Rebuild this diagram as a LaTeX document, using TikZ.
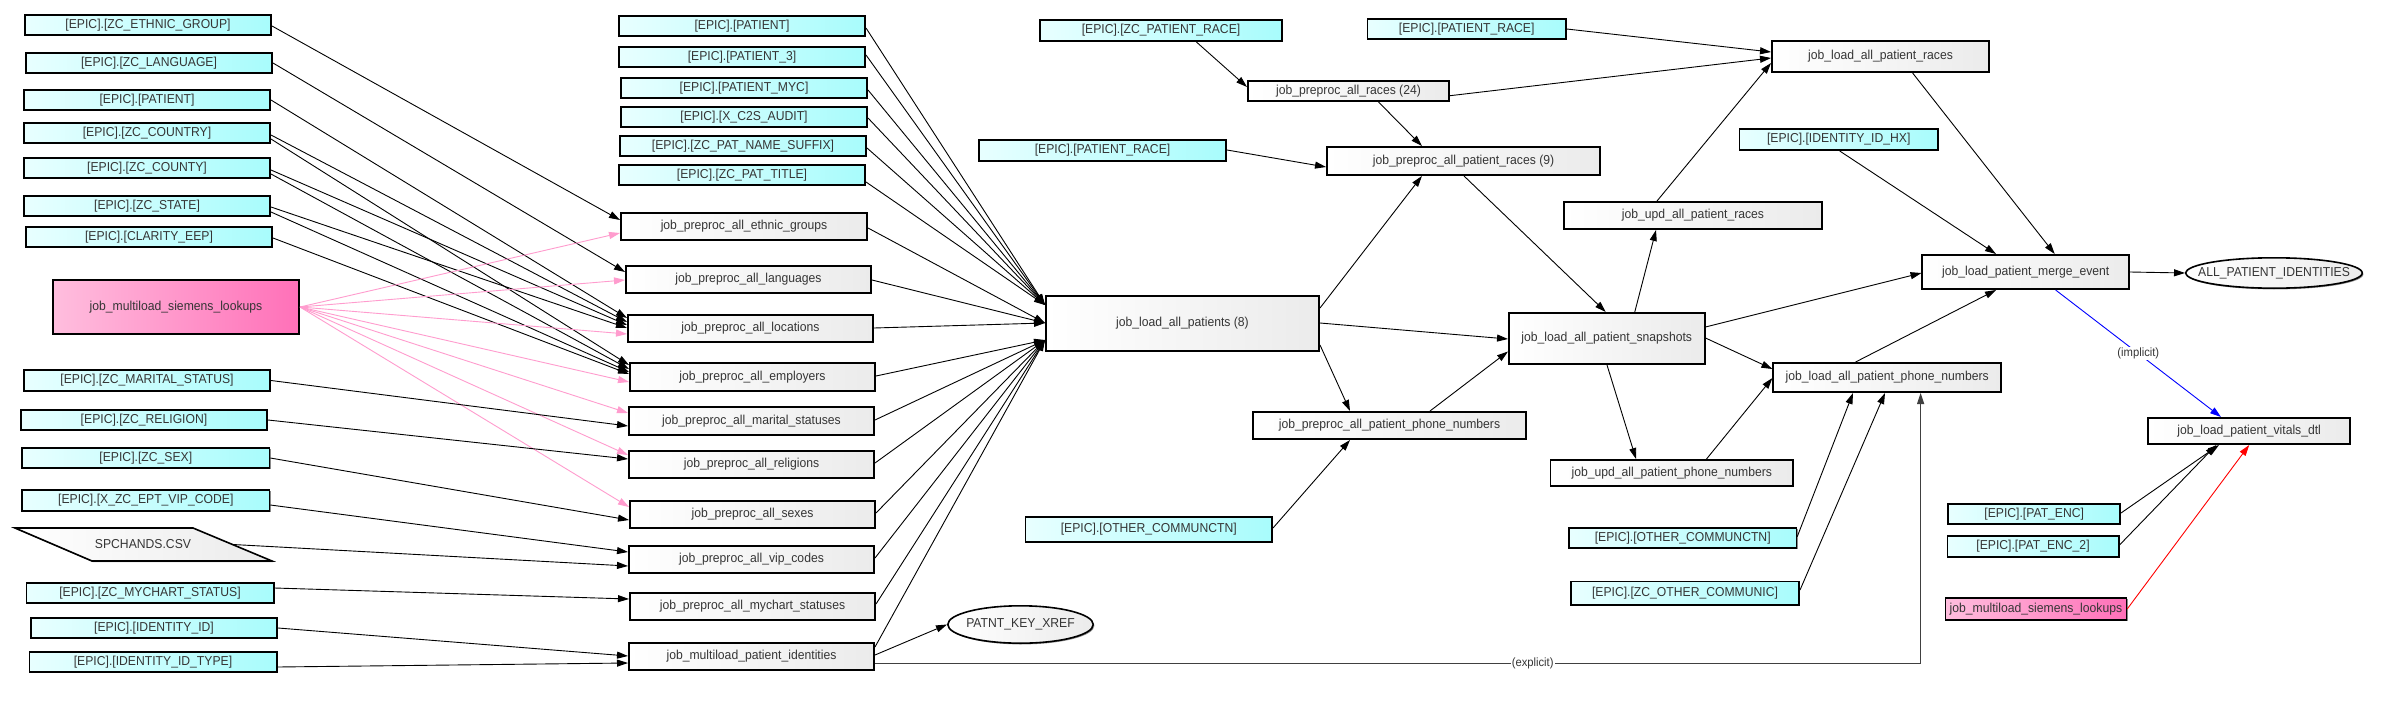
\documentclass[tikz,border=0pt]{standalone}
\usepackage{fontspec}
\setmainfont{Liberation Sans}[FakeStretch=0.94]
\usetikzlibrary{arrows.meta,calc,shapes.geometric,shadows}
\definecolor{cyanL}{HTML}{E8FFFF}
\definecolor{cyanR}{HTML}{A8FCFC}
\definecolor{jobR}{HTML}{EBEBEB}
\definecolor{pinkL}{HTML}{FFBEDE}
\definecolor{pinkR}{HTML}{FF70B8}
\definecolor{edgepink}{HTML}{FF9CCE}
\definecolor{txt}{HTML}{353535}
\definecolor{shadowgray}{HTML}{8A8A8A}
\newcommand{\bx}[6]{\node[#1, minimum width={(#4-1.6)*1bp}, minimum height={(#5-1.6)*1bp}] (#2) at (#3) {#6};}
\newcommand{\lnk}[7][e]{\draw[#1] ($(#2)+(#3,#4)$) -- ($(#5)+(#6,#7)$);}
\begin{document}
\begin{tikzpicture}[x=1bp,y=-1bp,
  box/.style={draw=black, line width=1.6bp, inner sep=0pt, text=txt,
    font=\fontsize{13}{15}\selectfont,
    general shadow={fill=shadowgray, shadow xshift=1.2bp, shadow yshift=-1.2bp}},
  cy/.style={box, left color=cyanL, right color=cyanR},
  jb/.style={box, left color=white, right color=jobR},
  pk/.style={box, left color=pinkL, right color=pinkR},
  el/.style={box, ellipse, inner xsep=-15bp, inner ysep=0pt, left color=white, right color=jobR},
  e/.style={draw=black, line width=0.9bp, -{Triangle[length=11bp,width=7bp]}},
  pe/.style={e, draw=edgepink},
  re/.style={e, draw=red},
  lbl/.style={fill=white, inner sep=1bp, text=txt, font=\fontsize{12}{14}\selectfont}]
\fill[white] (0,0) rectangle (2388,707);
\useasboundingbox (0,0) rectangle (2388,707);
% left column
\bx{cy}{eth}{148,25}{248}{22}{[EPIC].[ZC\_ETHNIC\_GROUP]}
\bx{cy}{lang}{149,63}{248}{22}{[EPIC].[ZC\_LANGUAGE]}
\bx{cy}{patL}{147,100}{248}{22}{[EPIC].[PATIENT]}
\bx{cy}{country}{147,133}{248}{22}{[EPIC].[ZC\_COUNTRY]}
\bx{cy}{county}{147,168}{248}{22}{[EPIC].[ZC\_COUNTY]}
\bx{cy}{state}{147,206}{248}{22}{[EPIC].[ZC\_STATE]}
\bx{cy}{clarity}{149,237}{248}{22}{[EPIC].[CLARITY\_EEP]}
\bx{pk}{siemL}{176,307}{248}{56}{job\_multiload\_siemens\_lookups}
\bx{cy}{marital}{147,380.5}{248}{23}{[EPIC].[ZC\_MARITAL\_STATUS]}
\bx{cy}{religion}{144,420}{248}{22}{[EPIC].[ZC\_RELIGION]}
\bx{cy}{sex}{145.8,458}{249}{22}{[EPIC].[ZC\_SEX]}
\bx{cy}{vip}{145.8,500.5}{249}{23}{[EPIC].[X\_ZC\_EPT\_VIP\_CODE]}
\draw[line width=1.6bp, left color=white, right color=jobR,
  general shadow={fill=shadowgray, shadow xshift=1.2bp, shadow yshift=-1.2bp}]
  (15,528) -- (193,528) -- (272,561) -- (92,561) -- cycle;
\node[inner sep=0pt, minimum width=180bp, text=txt, font=\fontsize{13}{15}\selectfont] (spch) at (143,544.5) {SPCHANDS.CSV};
\bx{cy}{mychart}{150,593}{249}{22}{[EPIC].[ZC\_MYCHART\_STATUS]}
\bx{cy}{idid}{154,628}{248}{22}{[EPIC].[IDENTITY\_ID]}
\bx{cy}{idtype}{153,662}{249}{22}{[EPIC].[IDENTITY\_ID\_TYPE]}
% middle column
\bx{cy}{patM}{742,26}{248}{22}{[EPIC].[PATIENT]}
\bx{cy}{pat3}{742,57}{248}{22}{[EPIC].[PATIENT\_3]}
\bx{cy}{patmyc}{744,88}{248}{22}{[EPIC].[PATIENT\_MYC]}
\bx{cy}{c2s}{744,117}{248}{22}{[EPIC].[X\_C2S\_AUDIT]}
\bx{cy}{suffix}{743,146}{248}{22}{[EPIC].[ZC\_PAT\_NAME\_SUFFIX]}
\bx{cy}{title}{742,175}{248}{22}{[EPIC].[ZC\_PAT\_TITLE]}
\bx{jb}{jEth}{744,226.5}{248}{29}{job\_preproc\_all\_ethnic\_groups}
\bx{jb}{jLang}{748.5,279.5}{247}{29}{job\_preproc\_all\_languages}
\bx{jb}{jLoc}{750.5,328.5}{247}{29}{job\_preproc\_all\_locations}
\bx{jb}{jEmp}{752.5,377}{247}{30}{job\_preproc\_all\_employers}
\bx{jb}{jMar}{751.5,421}{247}{30}{job\_preproc\_all\_marital\_statuses}
\bx{jb}{jRel}{751.5,464.5}{247}{29}{job\_preproc\_all\_religions}
\bx{jb}{jSex}{752.5,514.5}{247}{29}{job\_preproc\_all\_sexes}
\bx{jb}{jVip}{751.5,559.5}{247}{29}{job\_preproc\_all\_vip\_codes}
\bx{jb}{jMyc}{752.5,606.5}{247}{29}{job\_preproc\_all\_mychart\_statuses}
\bx{jb}{jMpi}{751.5,656.5}{247}{29}{job\_multiload\_patient\_identities}
\bx{el}{xref}{1020.5,624.5}{147}{39}{PATNT\_KEY\_XREF}
% right part
\bx{jb}{loadPat}{1182.5,323.5}{275}{57}{job\_load\_all\_patients (8)}
\bx{cy}{zcRace}{1161,30.5}{244}{23}{[EPIC].[ZC\_PATIENT\_RACE]}
\bx{cy}{patRaceT}{1466.7,29}{200}{22}{[EPIC].[PATIENT\_RACE]}
\bx{jb}{jRaces}{1348.5,91}{203}{22}{job\_preproc\_all\_races (24)}
\bx{cy}{patRaceL}{1102.5,150.5}{249}{23}{[EPIC].[PATIENT\_RACE]}
\bx{jb}{jPatRaces}{1463.5,161}{275}{30}{job\_preproc\_all\_patient\_races (9)}
\bx{jb}{jUpdRaces}{1693,215.5}{260}{29}{job\_upd\_all\_patient\_races}
\bx{jb}{snap}{1606.75,338.5}{197.5}{53}{job\_load\_all\_patient\_snapshots}
\bx{jb}{jPrePhone}{1389.5,425.5}{275}{29}{job\_preproc\_all\_patient\_phone\_numbers}
\bx{jb}{jUpdPhone}{1671.8,473}{244}{28}{job\_upd\_all\_patient\_phone\_numbers}
\bx{cy}{otherL}{1148.75,529.5}{248.5}{27}{[EPIC].[OTHER\_COMMUNCTN]}
\bx{cy}{otherR}{1682.7,538}{229}{22}{[EPIC].[OTHER\_COMMUNCTN]}
\bx{cy}{zcOther}{1685,593}{230}{25}{[EPIC].[ZC\_OTHER\_COMMUNIC]}
\bx{jb}{loadRaces}{1880.5,56.5}{219}{33}{job\_load\_all\_patient\_races}
\bx{cy}{idhx}{1838.7,139.5}{200}{23}{[EPIC].[IDENTITY\_ID\_HX]}
\bx{jb}{merge}{2025.7,272}{208.5}{36}{job\_load\_patient\_merge\_event}
\bx{el}{allpi}{2274,273}{178}{32}{ALL\_PATIENT\_IDENTITIES}
\bx{jb}{loadPhone}{1887.2,377.5}{229.6}{31}{job\_load\_all\_patient\_phone\_numbers}
\bx{jb}{vitals}{2249.2,431}{203.6}{28}{job\_load\_patient\_vitals\_dtl}
\bx{cy}{patenc}{2034.2,514}{173.6}{22}{[EPIC].[PAT\_ENC]}
\bx{cy}{patenc2}{2033,546.5}{173}{23}{[EPIC].[PAT\_ENC\_2]}
\bx{pk}{siemR}{2035.9,609}{182.6}{24}{job\_multiload\_siemens\_lookups}
% edges: left column
\lnk{eth}{124}{1}{jEth}{-124}{-6.5}
\lnk{lang}{124}{0}{jLang}{-123.5}{-7.5}
\lnk{patL}{124}{0}{jLoc}{-123.5}{-10.5}
\lnk{country}{124}{2}{jLoc}{-123.5}{-6.5}
\lnk{country}{124}{6}{jEmp}{-123.5}{-12}
\lnk{county}{124}{2}{jLoc}{-123.5}{-3.5}
\lnk{county}{124}{6}{jEmp}{-123.5}{-8}
\lnk{state}{124}{1}{jLoc}{-123.5}{-0.5}
\lnk{state}{124}{6}{jEmp}{-123.5}{-5}
\lnk{clarity}{124}{1}{jEmp}{-123.5}{-3}
\lnk[pe]{siemL}{124}{0}{jEth}{-124}{6.5}
\lnk[pe]{siemL}{124}{0}{jLang}{-123.5}{0.5}
\lnk[pe]{siemL}{124}{0}{jLoc}{-123.5}{5.5}
\lnk[pe]{siemL}{124}{0}{jEmp}{-123.5}{5}
\lnk[pe]{siemL}{124}{0}{jMar}{-123.5}{-8}
\lnk[pe]{siemL}{124}{0}{jRel}{-123.5}{-9.5}
\lnk[pe]{siemL}{124}{0}{jSex}{-123.5}{-7.5}
\lnk{marital}{124}{0}{jMar}{-123.5}{5}
\lnk{religion}{124}{0}{jRel}{-123.5}{-5.5}
\lnk{sex}{124.5}{0}{jSex}{-123.5}{5.5}
\lnk{vip}{124.5}{4.5}{jVip}{-123.5}{-7.5}
\lnk{spch}{90}{0}{jVip}{-123.5}{6.5}
\lnk{mychart}{124.5}{-5}{jMyc}{-123.5}{-7.5}
\lnk{idid}{124}{0}{jMpi}{-123.5}{-0.5}
\lnk{idtype}{124.5}{5}{jMpi}{-123.5}{6.5}
% into job_load_all_patients
\lnk{patM}{124}{2}{loadPat}{-137.5}{-18.5}
\lnk{pat3}{124}{-2}{loadPat}{-137.5}{-18.5}
\lnk{patmyc}{124}{2}{loadPat}{-137.5}{-18.5}
\lnk{c2s}{124}{1}{loadPat}{-137.5}{-18.5}
\lnk{suffix}{124}{2}{loadPat}{-137.5}{-18.5}
\lnk{title}{124}{7}{loadPat}{-137.5}{-18.5}
\lnk{jEth}{124}{1.5}{loadPat}{-137.5}{-0.5}
\lnk{jLang}{123.5}{0.5}{loadPat}{-137.5}{-0.5}
\lnk{jLoc}{123.5}{-0.5}{loadPat}{-137.5}{-0.5}
\lnk{jEmp}{123.5}{-1}{loadPat}{-137.5}{16.5}
\lnk{jMar}{123.5}{-1}{loadPat}{-137.5}{16.5}
\lnk{jRel}{123.5}{-1.5}{loadPat}{-137.5}{16.5}
\lnk{jSex}{123.5}{-1.5}{loadPat}{-137.5}{16.5}
\lnk{jVip}{123.5}{-1.5}{loadPat}{-137.5}{16.5}
\lnk{jMyc}{123.5}{-2.5}{loadPat}{-137.5}{16.5}
\lnk{jMpi}{123.5}{-9.5}{loadPat}{-137.5}{16.5}
\lnk{jMpi}{123.5}{-1.5}{xref}{-73.5}{0}
\draw[e, draw=black!75] ($(jMpi)+(123.5,6.5)$) -| node[pos=0.3145, lbl]{(explicit)} ($(loadPhone)+(33.4,15.5)$);
% right part edges
\lnk{zcRace}{35.4}{11.5}{jRaces}{-101.5}{-4}
\lnk{patRaceT}{100}{0}{loadRaces}{-109.5}{-4.5}
\lnk{jRaces}{101.5}{4.7}{loadRaces}{-109.5}{1.5}
\lnk{jRaces}{30}{11}{jPatRaces}{-41.6}{-15}
\lnk{patRaceL}{124.5}{-0.5}{jPatRaces}{-137.5}{6}
\lnk{loadPat}{137.5}{-15.5}{jPatRaces}{-41.6}{15}
\lnk{jPatRaces}{0.5}{15}{snap}{-1}{-26.5}
\lnk{loadPat}{137.5}{-0.5}{snap}{-98.75}{0.5}
\lnk{loadPat}{137.5}{21.5}{jPrePhone}{-39.5}{-14.5}
\lnk{jPrePhone}{40.5}{-14.5}{snap}{-98.75}{13}
\lnk{otherL}{124.25}{-1.5}{jPrePhone}{-39.5}{14.5}
\lnk{snap}{28}{-26.5}{jUpdRaces}{-37}{14.5}
\lnk{jUpdRaces}{-36}{-14.5}{loadRaces}{-109.5}{6.5}
\lnk{snap}{0.25}{26.5}{jUpdPhone}{-35.8}{-14}
\lnk{jUpdPhone}{34.7}{-14}{loadPhone}{-114.8}{0.5}
\lnk{snap}{98.75}{-0.5}{loadPhone}{-114.8}{-8.5}
\lnk{snap}{98.75}{-11.5}{merge}{-104.2}{1}
\lnk{otherR}{114.5}{-1.3}{loadPhone}{-34.2}{15.5}
\lnk{zcOther}{115}{-3}{loadPhone}{-2.2}{15.5}
\lnk{loadRaces}{32.1}{16.5}{merge}{29}{-18}
\lnk{idhx}{1}{11.5}{merge}{-29.7}{-18}
\lnk{loadPhone}{-31.6}{-15.5}{merge}{-29.7}{18}
\lnk{merge}{104.2}{0}{allpi}{-89}{0}
\draw[e, draw=blue] ($(merge)+(29.9,18)$) -- node[lbl]{(implicit)} ($(vitals)+(-28.2,-14)$);
\lnk{patenc}{86.8}{-1}{vitals}{-30.2}{14}
\lnk{patenc2}{86.5}{-1.5}{vitals}{-33}{14}
\lnk[re]{siemR}{91.3}{0}{vitals}{0}{14}
\end{tikzpicture}
\end{document}
